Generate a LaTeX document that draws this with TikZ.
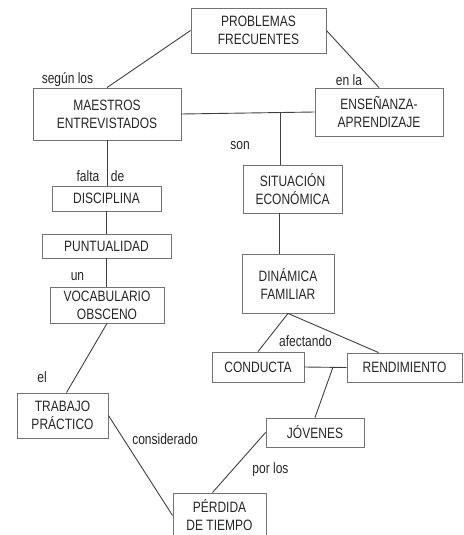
\documentclass[tikz,border=0pt]{standalone}
\usepackage{fontspec}
\setmainfont{Liberation Sans}[FakeStretch=0.8]
\newlength{\du}
\setlength{\du}{1pt}
\definecolor{boxcolor}{rgb}{0.450000, 0.450000, 0.450000}
\definecolor{linecolor}{rgb}{0.250000, 0.250000, 0.250000}
\definecolor{textcolor}{rgb}{0.150000, 0.150000, 0.150000}
\tikzset{
  concept/.style={draw=boxcolor, line width=0.9\du, inner sep=0pt, align=center,
    text=textcolor, font=\fontsize{15}{18}\selectfont},
  linkword/.style={inner sep=0pt, text=textcolor, font=\fontsize{15}{18}\selectfont},
  link/.style={draw=linecolor, line width=0.9\du}
}
\begin{document}
\begin{tikzpicture}
\pgftransformxscale{1.000000}
\pgftransformyscale{-1.000000}
\useasboundingbox (0\du,0\du) rectangle (463\du,535\du);
% concepts
\node[concept, minimum width=135\du, minimum height=45\du] (prob) at (258.5\du,30.5\du) {PROBLEMAS\\FRECUENTES};
\node[concept, minimum width=148\du, minimum height=52\du] (maes) at (107\du,114\du) {MAESTROS\\ENTREVISTADOS};
\node[concept, minimum width=128\du, minimum height=48\du] (ense) at (379\du,112\du) {ENSEÑANZA-\\APRENDIZAJE};
\node[concept, minimum width=99\du, minimum height=48\du] (situ) at (292.5\du,189\du) {SITUACIÓN\\ECONÓMICA};
\node[concept, minimum width=109\du, minimum height=25\du] (disc) at (106.5\du,198.5\du) {DISCIPLINA};
\node[concept, minimum width=129\du, minimum height=24\du] (punt) at (106.5\du,246\du) {PUNTUALIDAD};
\node[concept, minimum width=114\du, minimum height=36\du] (voca) at (107\du,305\du) {VOCABULARIO\\OBSCENO};
\node[concept, minimum width=92\du, minimum height=59\du] (dina) at (288\du,283.5\du) {DINÁMICA\\FAMILIAR};
\node[concept, minimum width=92\du, minimum height=30\du] (cond) at (258\du,367\du) {CONDUCTA};
\node[concept, minimum width=115\du, minimum height=29\du] (rend) at (404.5\du,367.5\du) {RENDIMIENTO};
\node[concept, minimum width=91\du, minimum height=45\du] (trab) at (62.5\du,415.5\du) {TRABAJO\\PRÁCTICO};
\node[concept, minimum width=98\du, minimum height=29\du] (jove) at (315\du,432.5\du) {JÓVENES};
\node[concept, minimum width=93\du, minimum height=45\du] (perd) at (219.5\du,515.5\du) {PÉRDIDA\\DE TIEMPO};
% junctions
\coordinate (jsit) at (280\du,113\du);
\coordinate (jjov) at (333\du,367\du);
% connectors
\draw[link] (prob.west) -- (maes.north);
\draw[link] (prob.east) -- (ense.north);
\draw[link] (maes.east) -- (ense.west);
\draw[link] (jsit) -- (jsit |- situ.north);
\draw[link] (maes.south) -- (maes.south |- disc.north);
\draw[link] (disc.south) -- (disc.south |- punt.north);
\draw[link] (punt.south) -- (punt.south |- voca.north);
\draw[link] (voca.south) -- ([xshift=4\du]trab.north);
\draw[link] ([xshift=-9\du]dina.north) -- ([xshift=-9\du]dina.north |- situ.south);
\draw[link] (dina.south) -- (cond.north);
\draw[link] (dina.south) -- ([xshift=-26\du]rend.north);
\draw[link] (cond.east) -- (rend.west);
\draw[link] (jjov) -- (jove.north);
\draw[link] (trab.east) -- (perd.west);
\draw[link] (jove.west) -- ([xshift=-7\du]perd.north);
% linking words
\node[linkword] (wsegun) at (67.5\du,80\du) {según los};
\node[linkword] (wenla) at (349\du,80\du) {en la};
\node[linkword] (wson) at (240\du,146\du) {son};
\node[linkword] (wfalta) at (88\du,176\du) {falta};
\node[linkword] (wde) at (117.5\du,176\du) {de};
\node[linkword] (wun) at (77.5\du,277\du) {un};
\node[linkword] (wafect) at (305.5\du,341\du) {afectando};
\node[linkword] (wel) at (42\du,377\du) {el};
\node[linkword] (wcons) at (165\du,439\du) {considerado};
\node[linkword] (wpor) at (270.5\du,470\du) {por los};
\end{tikzpicture}
\end{document}
